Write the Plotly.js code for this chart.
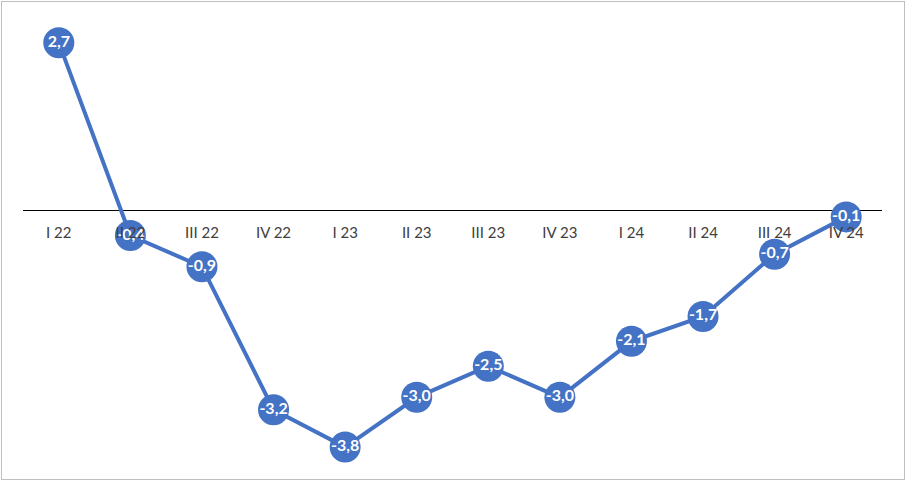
<!DOCTYPE html>
<html>
<head>
<meta charset="utf-8">
<script src="https://cdn.plot.ly/plotly-3.0.1.min.js"></script>
<style>
  html, body { margin: 0; padding: 0; background: #fff; }
  #wrap { position: relative; width: 906px; height: 482px; overflow: hidden; }
  #chart { position: absolute; left: 0; top: 0; width: 906px; height: 482px; }
  #frame { position: absolute; left: 1px; top: 1px; width: 902px; height: 477px; border: 1px solid #BFBFBF; pointer-events: none; }
</style>
</head>
<body>
<div id="wrap">
  <div id="chart"></div>
  <div id="frame"></div>
</div>
<script>
const categories = ["I 22", "II 22", "III 22", "IV 22", "I 23", "II 23", "III 23", "IV 23", "I 24", "II 24", "III 24", "IV 24"];
const values = [2.7, -0.4, -0.9, -3.2, -3.8, -3.0, -2.5, -3.0, -2.1, -1.7, -0.7, -0.1];
const labels = values.map(v => v.toFixed(1).replace('.', ','));

const yMin = -4.2, yMax = 3.0;

const trace = {
  x: categories,
  y: values,
  type: 'scatter',
  mode: 'lines+markers+text',
  line: { color: '#4472C4', width: 4 },
  marker: { color: '#4472C4', size: 31, line: { width: 0 } },
  text: labels,
  textposition: 'middle center',
  textfont: { family: 'Lato, "Liberation Sans", sans-serif', size: 16, color: '#FFFFFF', weight: 'bold' },
  cliponaxis: false,
  hoverinfo: 'skip'
};

const layout = {
  width: 906,
  height: 482,
  margin: { l: 23, r: 24, t: 24, b: 10 },
  paper_bgcolor: '#FFFFFF',
  plot_bgcolor: '#FFFFFF',
  showlegend: false,
  xaxis: {
    type: 'category',
    anchor: 'free',
    position: (0 - yMin) / (yMax - yMin),
    showline: false,
    showgrid: false,
    zeroline: false,
    ticks: '',
    ticklabelstandoff: 11,
    tickfont: { family: 'Lato, "Open Sans", sans-serif', size: 15, color: '#404040' },
    layer: 'above traces',
    range: [-0.5, categories.length - 0.5]
  },
  yaxis: {
    range: [yMin, yMax],
    showgrid: false,
    showticklabels: false,
    ticks: '',
    showline: false,
    zeroline: true,
    zerolinecolor: '#000000',
    zerolinewidth: 1,
    layer: 'below traces'
  }
};

Plotly.newPlot('chart', [trace], layout, { staticPlot: true, displayModeBar: false });
</script>
</body>
</html>
